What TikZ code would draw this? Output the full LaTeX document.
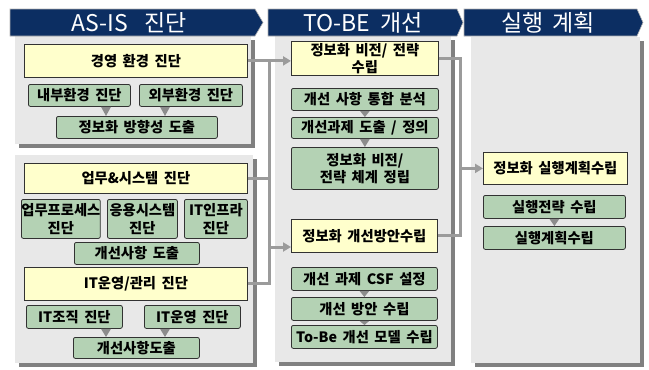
\documentclass[tikz,border=0pt]{standalone}
\usepackage{fontspec}
\setmainfont{Noto Sans CJK KR}[WordSpace=1.7]
\usetikzlibrary{arrows.meta,calc}
\definecolor{navy}{RGB}{12,46,98}
\definecolor{panelgray}{RGB}{232,232,232}
\definecolor{shadowgray}{RGB}{128,128,128}
\definecolor{lightyellow}{RGB}{255,255,204}
\definecolor{sage}{RGB}{180,210,180}
\definecolor{boxline}{RGB}{50,50,50}
\definecolor{conngray}{RGB}{155,155,155}
\definecolor{trigray}{RGB}{140,140,140}
\newcommand\bxfont{\bfseries\fontsize{14.3}{17.5}\selectfont}
\newcommand\hdfont{\fontsize{23}{25}\selectfont}
\newcommand\downtri[3]{\fill[trigray] ($(#1.south -| #3)+(-5,0)$) -- ($(#1.south -| #3)+(5,0)$) -- (#2.north -| #3) -- cycle;}
\begin{document}
\begin{tikzpicture}[x=1pt,y=-1pt,
  ybox/.style={anchor=north west, draw=boxline, line width=0.8pt, fill=lightyellow, inner sep=0pt, align=center, font=\bxfont},
  gbox/.style={ybox, fill=sage, rounded corners=2pt},
  conn/.style={draw=conngray, line width=3pt},
  arr/.style={-{Triangle[length=8pt,width=9pt]}},
  hdr/.style={fill=navy, draw=gray!60, line width=0.6pt},
  htext/.style={text=white, font=\hdfont, inner sep=0pt}
]
\useasboundingbox (0,0) rectangle (649,370);
% panels with shadows
\fill[shadowgray] (19,40) rectangle (255,148);
\fill[panelgray] (15,36) rectangle (251,144);
\fill[shadowgray] (19,159) rectangle (257,367);
\fill[panelgray] (15,155) rectangle (253,363);
\fill[shadowgray] (279,40) rectangle (455,366);
\fill[panelgray] (275,36) rectangle (451,362);
\fill[shadowgray] (475,41) rectangle (644,367);
\fill[panelgray] (471,37) rectangle (640,363);
% headers
\draw[hdr] (10,9) -- (255,9) -- (263,22.5) -- (255,36) -- (10,36) -- cycle;
\draw[hdr] (268,9) -- (457,9) -- (463,22.5) -- (457,36) -- (268,36) -- cycle;
\draw[hdr] (464,9) -- (637,9) -- (643,22.5) -- (637,36) -- (464,36) -- cycle;
\node[htext] (hA) at (129,22.5) {AS-IS\hspace{16pt}진단};
\node[htext] (hB) at (363,22.5) {TO-BE\hspace{10pt}개선};
\node[htext] (hC) at (548,22.5) {실행\hspace{9pt}계획};
% AS-IS boxes
\node[ybox, minimum width=223pt, minimum height=33pt] (a1) at (24,44) {경영 환경 진단};
\node[gbox, minimum width=102pt, minimum height=22pt] (a2) at (28,84) {내부환경 진단};
\node[gbox, minimum width=103pt, minimum height=22pt] (a3) at (139,84) {외부환경 진단};
\node[gbox, minimum width=161pt, minimum height=22pt] (a4) at (56,116) {정보화 방향성 도출};
\node[ybox, minimum width=223pt, minimum height=30pt] (b1) at (24,163) {업무\&시스템 진단};
\node[gbox, minimum width=78pt, minimum height=39pt] (b2) at (21,199) {업무프로세스\\진단};
\node[gbox, minimum width=70pt, minimum height=39pt] (b3) at (107,199) {응용시스템\\진단};
\node[gbox, minimum width=63pt, minimum height=39pt] (b4) at (184,199) {IT인프라\\진단};
\node[gbox, minimum width=125pt, minimum height=22pt] (b5) at (74,242) {개선사항 도출};
\node[ybox, minimum width=223pt, minimum height=33pt] (b6) at (24,267) {IT운영/관리 진단};
\node[gbox, minimum width=96pt, minimum height=23pt] (b7) at (26,305) {IT조직 진단};
\node[gbox, minimum width=96pt, minimum height=23pt] (b8) at (144,305) {IT운영 진단};
\node[gbox, minimum width=126pt, minimum height=21pt] (b9) at (73,337) {개선사항도출};
% TO-BE boxes
\node[ybox, minimum width=147pt, minimum height=34pt] (t1) at (291,41) {정보화 비전/ 전략\\수립};
\node[gbox, minimum width=147pt, minimum height=22pt] (t2) at (291,88) {개선 사항 통합 분석};
\node[gbox, minimum width=147pt, minimum height=21pt] (t3) at (291,117) {개선과제 도출 / 정의};
\node[gbox, minimum width=147pt, minimum height=42pt] (t4) at (291,147) {정보화 비전/\\전략 체계 정립};
\node[ybox, minimum width=146pt, minimum height=33pt] (t5) at (291,219) {정보화 개선방안수립};
\node[gbox, minimum width=146pt, minimum height=23pt] (t6) at (291,267) {개선 과제 CSF 설정};
\node[gbox, minimum width=146pt, minimum height=23pt] (t7) at (291,297) {개선 방안 수립};
\node[gbox, minimum width=146pt, minimum height=23pt] (t8) at (291,325) {To-Be 개선 모델 수립};
% execution boxes
\node[ybox, minimum width=144pt, minimum height=32pt] (e1) at (483,152) {정보화 실행계획수립};
\node[gbox, minimum width=142pt, minimum height=23pt] (e2) at (483,195) {실행전략 수립};
\node[gbox, minimum width=142pt, minimum height=23pt] (e3) at (483,226) {실행계획수립};
% helper coordinates
\coordinate (tr) at (269,0);
\coordinate (rx) at (460,0);
\coordinate (c2) at (269,247);
\coordinate (p1) at (106,0);
\coordinate (p2) at (165,0);
% connectors
\draw[conn] (b1.east) -- (b1.east -| tr);
\draw[conn] (b6.east) -| (a1.east -| tr);
\draw[conn,arr] (a1.east) -- (a1.east -| t1.west);
\draw[conn,arr] (c2) -- (c2 -| t5.west);
\draw[conn] (t1.east) -| (t5.east -| rx) -- (t5.east);
\draw[conn,arr] (e1.west -| rx) -- (e1.west);
% small triangles
\downtri{a2}{a4}{p1}
\downtri{a3}{a4}{p2}
\downtri{b7}{b9}{p1}
\downtri{b8}{b9}{p2}
\downtri{t2}{t3}{t2}
\downtri{t3}{t4}{t3}
\downtri{t6}{t7}{t6}
\downtri{t7}{t8}{t7}
\downtri{e2}{e3}{e2}
\end{tikzpicture}
\end{document}
